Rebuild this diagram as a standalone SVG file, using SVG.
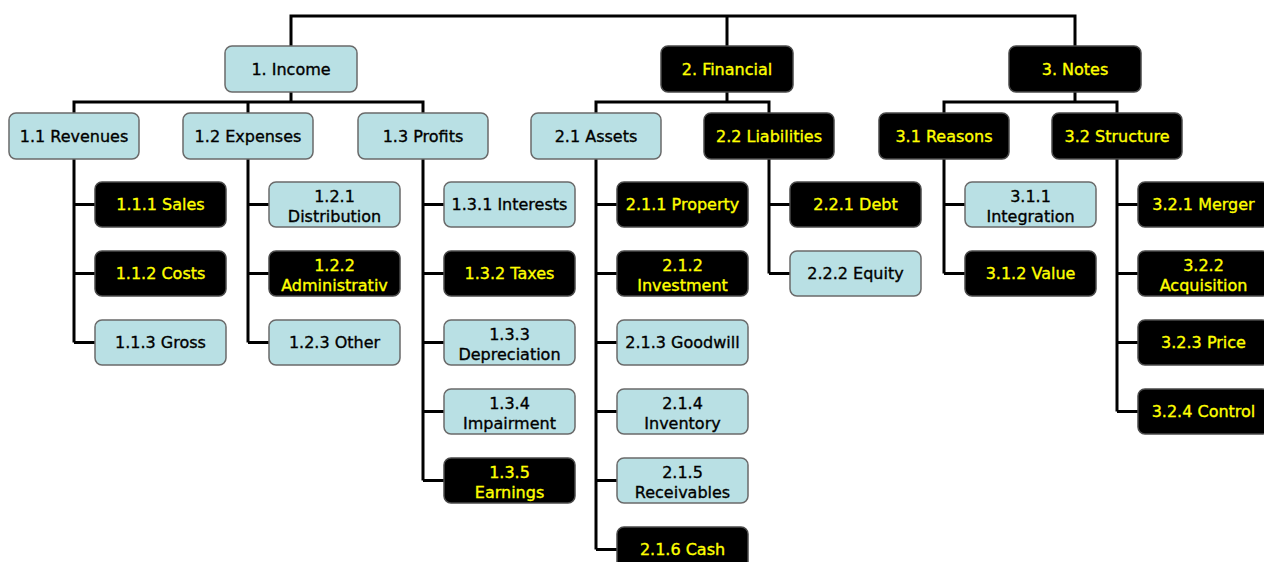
<svg xmlns="http://www.w3.org/2000/svg" width="1264" height="562" viewBox="0 0 1264 562">
  <style>
    .lt { fill: #b9e0e4; stroke: #6a6a6a; stroke-width: 1.5; }
    .dk { fill: #000000; stroke: #4a4a4a; stroke-width: 1.5; }
    text { font-family: "DejaVu Sans", Verdana, sans-serif; font-size: 16px; text-anchor: middle; stroke-width: 0.35; }
    .tl { fill: #000000; stroke: #000000; }
    .td { fill: #ffff00; stroke: #ffff00; }
    .wire { fill: none; stroke: #000000; stroke-width: 3; stroke-linejoin: miter; }
  </style>

  <!-- connectors -->
  <g id="connectors" class="wire">
    <path d="M291 46 V16 H1075 V46 M727 16 V46"/>
    <path d="M291 92 V102 M74 113 V102 H423 V113 M248 102 V113"/>
    <path d="M727 92 V102 M596 113 V102 H769 V113"/>
    <path d="M1075 92 V102 M944 113 V102 H1117 V113"/>
    <path d="M74 159 V342.5 M74 204.5 H95 M74 273.5 H95 M74 342.5 H95"/>
    <path d="M248 159 V342.5 M248 204.5 H269 M248 273.5 H269 M248 342.5 H269"/>
    <path d="M423 159 V480.5 M423 204.5 H444 M423 273.5 H444 M423 342.5 H444 M423 411.5 H444 M423 480.5 H444"/>
    <path d="M596 159 V549.5 M596 204.5 H617 M596 273.5 H617 M596 342.5 H617 M596 411.5 H617 M596 480.5 H617 M596 549.5 H617"/>
    <path d="M769 159 V273.5 M769 204.5 H790 M769 273.5 H790"/>
    <path d="M944 159 V273.5 M944 204.5 H965 M944 273.5 H965"/>
    <path d="M1117 159 V411.5 M1117 204.5 H1138 M1117 273.5 H1138 M1117 342.5 H1138 M1117 411.5 H1138"/>
  </g>

  <!-- level 1 -->
  <g id="n1"><rect class="lt" x="225" y="46" width="132" height="46" rx="7"/><text class="tl" x="291" y="75">1. Income</text></g>
  <g id="n2"><rect class="dk" x="661" y="46" width="132" height="46" rx="7"/><text class="td" x="727" y="75">2. Financial</text></g>
  <g id="n3"><rect class="dk" x="1009" y="46" width="132" height="46" rx="7"/><text class="td" x="1075" y="75">3. Notes</text></g>

  <!-- level 2 -->
  <g id="n1_1"><rect class="lt" x="9" y="113" width="130" height="46" rx="7"/><text class="tl" x="74" y="142">1.1 Revenues</text></g>
  <g id="n1_2"><rect class="lt" x="183" y="113" width="130" height="46" rx="7"/><text class="tl" x="248" y="142">1.2 Expenses</text></g>
  <g id="n1_3"><rect class="lt" x="358" y="113" width="130" height="46" rx="7"/><text class="tl" x="423" y="142">1.3 Profits</text></g>
  <g id="n2_1"><rect class="lt" x="531" y="113" width="130" height="46" rx="7"/><text class="tl" x="596" y="142">2.1 Assets</text></g>
  <g id="n2_2"><rect class="dk" x="704" y="113" width="130" height="46" rx="7"/><text class="td" x="769" y="142">2.2 Liabilities</text></g>
  <g id="n3_1"><rect class="dk" x="879" y="113" width="130" height="46" rx="7"/><text class="td" x="944" y="142">3.1 Reasons</text></g>
  <g id="n3_2"><rect class="dk" x="1052" y="113" width="130" height="46" rx="7"/><text class="td" x="1117" y="142">3.2 Structure</text></g>

  <!-- 1.1 children -->
  <g id="n1_1_1"><rect class="dk" x="95" y="182" width="131" height="45" rx="7"/><text class="td" x="160.5" y="210">1.1.1 Sales</text></g>
  <g id="n1_1_2"><rect class="dk" x="95" y="251" width="131" height="45" rx="7"/><text class="td" x="160.5" y="279">1.1.2 Costs</text></g>
  <g id="n1_1_3"><rect class="lt" x="95" y="320" width="131" height="45" rx="7"/><text class="tl" x="160.5" y="348">1.1.3 Gross</text></g>

  <!-- 1.2 children -->
  <g id="n1_2_1"><rect class="lt" x="269" y="182" width="131" height="45" rx="7"/><text class="tl" x="334.5" y="202">1.2.1</text><text class="tl" x="334.5" y="222">Distribution</text></g>
  <g id="n1_2_2"><rect class="dk" x="269" y="251" width="131" height="45" rx="7"/><text class="td" x="334.5" y="271">1.2.2</text><text class="td" x="334.5" y="291">Administrativ</text></g>
  <g id="n1_2_3"><rect class="lt" x="269" y="320" width="131" height="45" rx="7"/><text class="tl" x="334.5" y="348">1.2.3 Other</text></g>

  <!-- 1.3 children -->
  <g id="n1_3_1"><rect class="lt" x="444" y="182" width="131" height="45" rx="7"/><text class="tl" x="509.5" y="210">1.3.1 Interests</text></g>
  <g id="n1_3_2"><rect class="dk" x="444" y="251" width="131" height="45" rx="7"/><text class="td" x="509.5" y="279">1.3.2 Taxes</text></g>
  <g id="n1_3_3"><rect class="lt" x="444" y="320" width="131" height="45" rx="7"/><text class="tl" x="509.5" y="340">1.3.3</text><text class="tl" x="509.5" y="360">Depreciation</text></g>
  <g id="n1_3_4"><rect class="lt" x="444" y="389" width="131" height="45" rx="7"/><text class="tl" x="509.5" y="409">1.3.4</text><text class="tl" x="509.5" y="429">Impairment</text></g>
  <g id="n1_3_5"><rect class="dk" x="444" y="458" width="131" height="45" rx="7"/><text class="td" x="509.5" y="478">1.3.5</text><text class="td" x="509.5" y="498">Earnings</text></g>

  <!-- 2.1 children -->
  <g id="n2_1_1"><rect class="dk" x="617" y="182" width="131" height="45" rx="7"/><text class="td" x="682.5" y="210">2.1.1 Property</text></g>
  <g id="n2_1_2"><rect class="dk" x="617" y="251" width="131" height="45" rx="7"/><text class="td" x="682.5" y="271">2.1.2</text><text class="td" x="682.5" y="291">Investment</text></g>
  <g id="n2_1_3"><rect class="lt" x="617" y="320" width="131" height="45" rx="7"/><text class="tl" x="682.5" y="348">2.1.3 Goodwill</text></g>
  <g id="n2_1_4"><rect class="lt" x="617" y="389" width="131" height="45" rx="7"/><text class="tl" x="682.5" y="409">2.1.4</text><text class="tl" x="682.5" y="429">Inventory</text></g>
  <g id="n2_1_5"><rect class="lt" x="617" y="458" width="131" height="45" rx="7"/><text class="tl" x="682.5" y="478">2.1.5</text><text class="tl" x="682.5" y="498">Receivables</text></g>
  <g id="n2_1_6"><rect class="dk" x="617" y="527" width="131" height="45" rx="7"/><text class="td" x="682.5" y="555">2.1.6 Cash</text></g>

  <!-- 2.2 children -->
  <g id="n2_2_1"><rect class="dk" x="790" y="182" width="131" height="45" rx="7"/><text class="td" x="855.5" y="210">2.2.1 Debt</text></g>
  <g id="n2_2_2"><rect class="lt" x="790" y="251" width="131" height="45" rx="7"/><text class="tl" x="855.5" y="279">2.2.2 Equity</text></g>

  <!-- 3.1 children -->
  <g id="n3_1_1"><rect class="lt" x="965" y="182" width="131" height="45" rx="7"/><text class="tl" x="1030.5" y="202">3.1.1</text><text class="tl" x="1030.5" y="222">Integration</text></g>
  <g id="n3_1_2"><rect class="dk" x="965" y="251" width="131" height="45" rx="7"/><text class="td" x="1030.5" y="279">3.1.2 Value</text></g>

  <!-- 3.2 children -->
  <g id="n3_2_1"><rect class="dk" x="1138" y="182" width="131" height="45" rx="7"/><text class="td" x="1203.5" y="210">3.2.1 Merger</text></g>
  <g id="n3_2_2"><rect class="dk" x="1138" y="251" width="131" height="45" rx="7"/><text class="td" x="1203.5" y="271">3.2.2</text><text class="td" x="1203.5" y="291">Acquisition</text></g>
  <g id="n3_2_3"><rect class="dk" x="1138" y="320" width="131" height="45" rx="7"/><text class="td" x="1203.5" y="348">3.2.3 Price</text></g>
  <g id="n3_2_4"><rect class="dk" x="1138" y="389" width="131" height="45" rx="7"/><text class="td" x="1203.5" y="417">3.2.4 Control</text></g>
</svg>
